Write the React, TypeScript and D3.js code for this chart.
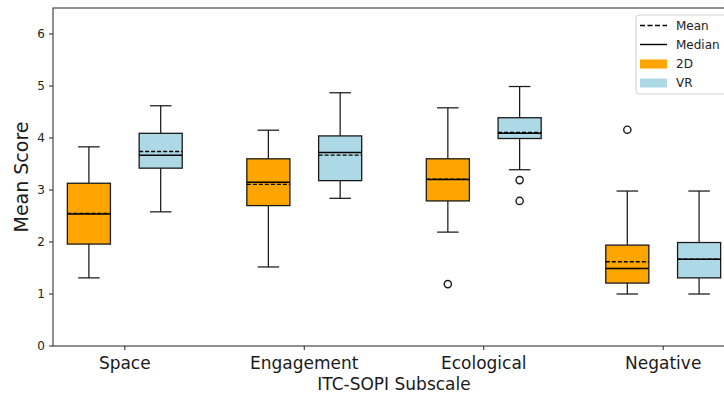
import React from 'react';
import * as d3 from 'd3';

// subscales on the x axis, conditions drawn side by side
const subscales = ['Space', 'Engagement', 'Ecological', 'Negative'];
const yTicks = [0, 1, 2, 3, 4, 5, 6];

// 2D condition (orange)
const lo2D = [1.31, 1.52, 2.19, 1.0];
const q1_2D = [1.96, 2.70, 2.79, 1.21];
const med2D = [2.54, 3.15, 3.20, 1.49];
const mean2D = [2.55, 3.11, 3.21, 1.62];
const q3_2D = [3.13, 3.60, 3.60, 1.94];
const hi2D = [3.83, 4.15, 4.58, 2.98];
const out2D = [[], [], [1.19], [4.16]];

// VR condition (light blue)
const loVR = [2.58, 2.84, 3.39, 1.0];
const q1_VR = [3.42, 3.18, 3.99, 1.31];
const medVR = [3.67, 3.72, 4.09, 1.67];
const meanVR = [3.74, 3.67, 4.11, 1.67];
const q3_VR = [4.09, 4.04, 4.39, 1.99];
const hiVR = [4.62, 4.87, 4.99, 2.98];
const outVR = [[], [], [3.19, 2.79], []];

const W = 724, H = 395;
const left = 53, right = 735, top = 8, bottom = 346;
const font = '"DejaVu Sans", sans-serif';

const groups = [
  { name: '2D', color: '#FFA500', off: -0.2, lo: lo2D, q1: q1_2D, med: med2D, mean: mean2D, q3: q3_2D, hi: hi2D, out: out2D },
  { name: 'VR', color: '#ADD8E6', off: 0.2, lo: loVR, q1: q1_VR, med: medVR, mean: meanVR, q3: q3_VR, hi: hiVR, out: outVR },
];

export default function App() {
  const x = d3.scaleLinear().domain([-0.4, subscales.length - 0.6]).range([left, right]);
  const y = d3.scaleLinear().domain([0, 6.5]).range([bottom, top]);
  const halfBox = x(0.12) - x(0);
  const halfCap = halfBox / 2;

  return (
    <svg width={W} height={H} style={{ position: 'absolute', left: 0, top: 0 }} fontFamily={font}>
      <rect x={0} y={0} width={W} height={H} fill="#fff" />
      {groups.map((g) =>
        subscales.map((s, i) => {
          const cx = x(i + g.off);
          return (
            <g key={g.name + s} stroke="#1a1a1a" strokeWidth={1.25}>
              <line x1={cx} x2={cx} y1={y(g.q3[i])} y2={y(g.hi[i])} />
              <line x1={cx} x2={cx} y1={y(g.q1[i])} y2={y(g.lo[i])} />
              <line x1={cx - halfCap} x2={cx + halfCap} y1={y(g.hi[i])} y2={y(g.hi[i])} />
              <line x1={cx - halfCap} x2={cx + halfCap} y1={y(g.lo[i])} y2={y(g.lo[i])} />
              <rect x={cx - halfBox} width={halfBox * 2} y={y(g.q3[i])} height={y(g.q1[i]) - y(g.q3[i])} fill={g.color} strokeWidth={1.3} />
              <line x1={cx - halfBox} x2={cx + halfBox} y1={y(g.med[i])} y2={y(g.med[i])} stroke="#000" strokeWidth={1.5} />
              <line x1={cx - halfBox} x2={cx + halfBox} y1={y(g.mean[i])} y2={y(g.mean[i])} stroke="#000" strokeWidth={1.3} strokeDasharray="4,2" />
              {g.out[i].map((v, k) => (
                <circle key={k} cx={cx} cy={y(v)} r={3.6} fill="none" strokeWidth={1.4} />
              ))}
            </g>
          );
        })
      )}
      {/* frame */}
      <rect x={left} y={top} width={right - left} height={bottom - top} fill="none" stroke="#222" strokeWidth={1} />
      {/* y axis */}
      {yTicks.map((t) => (
        <g key={t}>
          <line x1={left - 4} x2={left} y1={y(t)} y2={y(t)} stroke="#222" strokeWidth={1} />
          <text x={left - 8} y={y(t)} dy="0.36em" textAnchor="end" fontSize={12} fill="#222">{t}</text>
        </g>
      ))}
      {/* x axis */}
      {subscales.map((s, i) => (
        <g key={s}>
          <line x1={x(i)} x2={x(i)} y1={bottom} y2={bottom + 4} stroke="#222" strokeWidth={1} />
          <text x={x(i)} y={369} textAnchor="middle" fontSize={17} fill="#1a1a1a">{s}</text>
        </g>
      ))}
      <text x={(left + right) / 2} y={390} textAnchor="middle" fontSize={17} fill="#1a1a1a">ITC-SOPI Subscale</text>
      <text transform={`translate(28,${(top + bottom) / 2}) rotate(-90)`} textAnchor="middle" fontSize={19} fill="#1a1a1a">Mean Score</text>
      {/* legend */}
      <g>
        <rect x={636} y={15} width={93} height={79} rx={3} fill="#fff" fillOpacity={0.8} stroke="#ccc" strokeWidth={0.9} />
        <line x1={640} x2={667} y1={25.5} y2={25.5} stroke="#000" strokeWidth={1.4} strokeDasharray="5,2.5" />
        <text x={676} y={25.5} dy="0.36em" fontSize={12} fill="#222">Mean</text>
        <line x1={640} x2={667} y1={44.5} y2={44.5} stroke="#000" strokeWidth={1.4} />
        <text x={676} y={44.5} dy="0.36em" fontSize={12} fill="#222">Median</text>
        {groups.map((g, k) => (
          <g key={g.name}>
            <rect x={640} y={59.5 + k * 19} width={27} height={9} fill={g.color} />
            <text x={676} y={64 + k * 19} dy="0.36em" fontSize={12} fill="#222">{g.name}</text>
          </g>
        ))}
      </g>
    </svg>
  );
}
